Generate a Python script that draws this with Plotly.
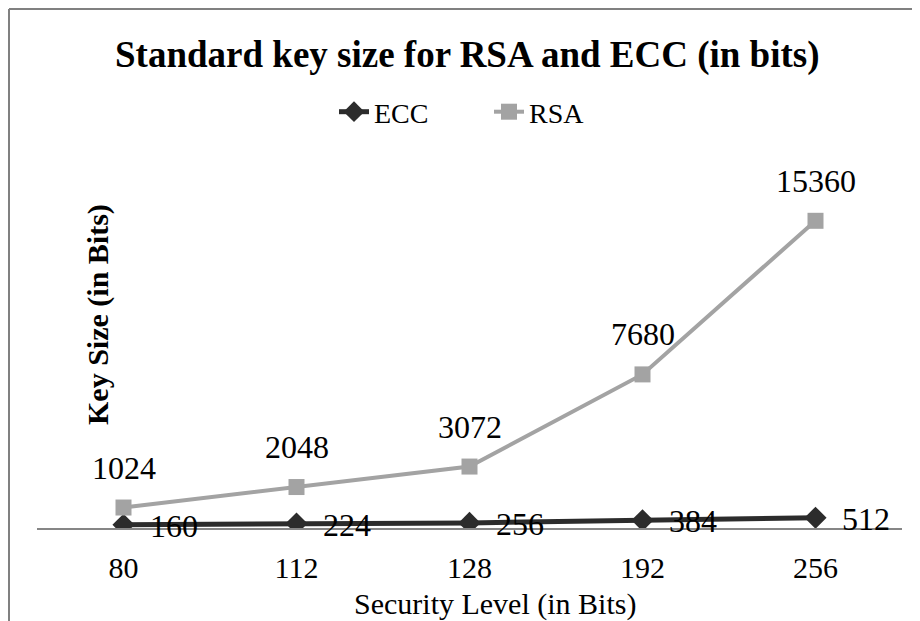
import plotly.graph_objects as go

categories = ["80", "112", "128", "192", "256"]
ecc = [160, 224, 256, 384, 512]
rsa = [1024, 2048, 3072, 7680, 15360]

FONT = "Liberation Serif"

# page is offset by the 8px body margin; figure is sized to fill the rest
W, H = 912, 613
L, R, T, B = 29, 18, 160, 93
pw, ph = W - L - R, H - T - B


def paper(px_page, py_page):
    """page pixel -> paper coords"""
    return (px_page - 8 - L) / pw, (H - B - (py_page - 8)) / ph


fig = go.Figure()
fig.add_trace(go.Scatter(
    x=categories, y=ecc, name="ECC", mode="lines+markers",
    line=dict(color="#2c2c2c", width=5),
    marker=dict(symbol="diamond", size=17, color="#2c2c2c"),
))
fig.add_trace(go.Scatter(
    x=categories, y=rsa, name="RSA", mode="lines+markers",
    line=dict(color="#a3a3a3", width=4),
    marker=dict(symbol="square", size=16, color="#a3a3a3"),
))

annotations = []
for i, v in enumerate(rsa):
    annotations.append(dict(x=i, y=v, xref="x", yref="y", text=str(v), showarrow=False,
                            xanchor="center", yanchor="middle", yshift=40,
                            font=dict(family=FONT, size=32, color="black")))
for i, v in enumerate(ecc):
    annotations.append(dict(x=i, y=v, xref="x", yref="y", text=str(v), showarrow=False,
                            xanchor="left", yanchor="middle", xshift=24, yshift=-1,
                            font=dict(family=FONT, size=32, color="black")))

for text, px, py, size, angle in [
    ("Security Level (in Bits)", 495, 604, 30, 0),
    ("<b>Key Size (in Bits)</b>", 98, 315, 30, -90),
    ("<b>Standard key size for RSA and ECC (in bits)</b>", 467, 55, 37, 0),
]:
    ax, ay = paper(px, py)
    annotations.append(dict(x=ax, y=ay, xref="paper", yref="paper", text=text, textangle=angle,
                            xanchor="center", yanchor="middle", showarrow=False,
                            font=dict(family=FONT, size=size, color="black")))

bx0, by0 = paper(9, 9)
bx1, by1 = paper(920, 660)
lx, ly = paper(489, 112)

fig.update_layout(
    width=W, height=H,
    margin=dict(l=L, r=R, t=T, b=B),
    paper_bgcolor="white", plot_bgcolor="white",
    font=dict(family=FONT, size=30, color="black"),
    showlegend=True,
    legend=dict(orientation="h", x=lx, xanchor="center", y=ly, yanchor="middle",
                font=dict(family=FONT, size=28, color="black"),
                entrywidth=110, entrywidthmode="pixels",
                bgcolor="rgba(0,0,0,0)"),
    xaxis=dict(type="category", showline=True, linecolor="#868686", linewidth=1.5,
               showgrid=False, ticks="outside", ticklen=12, tickcolor="rgba(0,0,0,0)",
               tickfont=dict(family=FONT, size=30, color="black"), range=[-0.5, 4.5]),
    yaxis=dict(range=[0, 18000], showgrid=False, zeroline=False, showticklabels=False,
               showline=False, ticks=""),
    annotations=annotations,
    shapes=[
        dict(type="line", xref="paper", yref="paper", x0=bx0, y0=by0, x1=bx1, y1=by0,
             line=dict(color="#808080", width=2), layer="below"),
        dict(type="line", xref="paper", yref="paper", x0=bx0, y0=by0, x1=bx0, y1=by1,
             line=dict(color="#808080", width=2), layer="below"),
    ],
)

fig.write_html("out.html")
